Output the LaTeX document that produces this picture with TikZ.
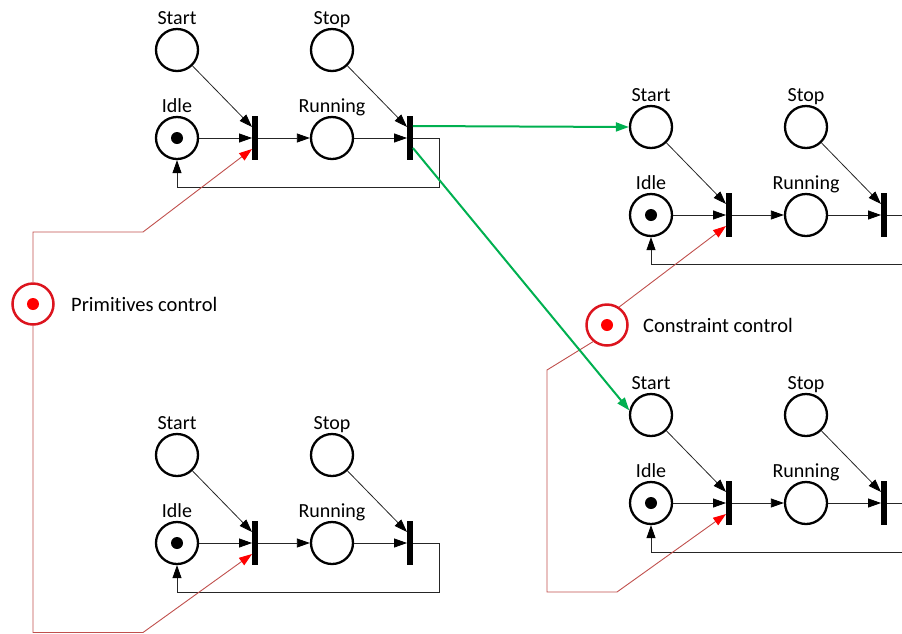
\documentclass[tikz,border=0pt]{standalone}
\usepackage{fontspec}
\setmainfont{Carlito}[Ligatures=NoCommon]
\usetikzlibrary{positioning,arrows.meta}

\definecolor{ctrlline}{RGB}{192,80,77}
\definecolor{ctrlred}{RGB}{220,20,30}
\definecolor{flowgreen}{RGB}{0,176,80}

\tikzset{
  place/.style={circle,draw,line width=2.3pt,minimum size=42pt,inner sep=0pt},
  token/.style={circle,fill=black,minimum size=12pt,inner sep=0pt},
  trans/.style={rectangle,fill=black,minimum width=5.5pt,minimum height=44pt,inner sep=0pt},
  lbl/.style={font=\fontsize{20}{24}\selectfont,inner sep=0pt,text depth=0pt,label distance=3pt},
  arc/.style={draw=black!85,line width=0.8pt,-{Triangle[length=13pt,width=9pt,color=black]}},
  flow/.style={draw=flowgreen,line width=2pt,-{Triangle[length=13pt,width=9pt]}},
  ctrl/.style={draw=ctrlline,line width=0.9pt},
  ctrlarc/.style={ctrl,-{Triangle[length=13pt,width=9pt,color=red]}},
  ctrlplace/.style={circle,draw=ctrlred,line width=2.5pt,minimum size=41pt,inner sep=0pt},
  ctrltoken/.style={circle,fill=red,minimum size=12pt,inner sep=0pt},
  ctrltext/.style={font=\fontsize{20.5}{24}\selectfont,inner sep=0pt}
}

\begin{document}
\begin{tikzpicture}[x=1pt,y=-1pt,on grid]
  \useasboundingbox (0,0) rectangle (902,633);
  \clip (0,0) rectangle (902,633);

  % machine 1 (top left)
  \node[place,label={[lbl]above:Idle}] (idle1) at (177,138) {};
  \node[token] (dot1) at (idle1) {};
  \node[place,label={[lbl]above:Start},above=88pt of idle1] (start1) {};
  \node[trans,right=78pt of idle1] (ton1) {};
  \node[place,label={[lbl]above:Running},right=155pt of idle1] (run1) {};
  \node[place,label={[lbl]above:Stop},above=88pt of run1] (stop1) {};
  \node[trans,right=78pt of run1] (toff1) {};
  \coordinate[below=49pt of idle1] (back1);
  \draw[arc] (start1) -- ([yshift=11pt]ton1.west);
  \draw[arc] (idle1) -- (ton1);
  \draw[arc] (ton1) -- (run1);
  \draw[arc] (run1) -- (toff1);
  \draw[arc] (stop1) -- ([yshift=11pt]toff1.west);
  \draw[arc] (toff1.east) -- ++(26,0) |- (back1) -- (idle1);

  % machine 2 (top right)
  \node[place,label={[lbl]above:Idle}] (idle2) at (651,215) {};
  \node[token] (dot2) at (idle2) {};
  \node[place,label={[lbl]above:Start},above=88pt of idle2] (start2) {};
  \node[trans,right=78pt of idle2] (ton2) {};
  \node[place,label={[lbl]above:Running},right=155pt of idle2] (run2) {};
  \node[place,label={[lbl]above:Stop},above=88pt of run2] (stop2) {};
  \node[trans,right=78pt of run2] (toff2) {};
  \coordinate[below=49pt of idle2] (back2);
  \draw[arc] (start2) -- ([yshift=11pt]ton2.west);
  \draw[arc] (idle2) -- (ton2);
  \draw[arc] (ton2) -- (run2);
  \draw[arc] (run2) -- (toff2);
  \draw[arc] (stop2) -- ([yshift=11pt]toff2.west);
  \draw[arc] (toff2.east) -- ++(26,0) |- (back2) -- (idle2);

  % machine 3 (bottom right)
  \node[place,label={[lbl]above:Idle}] (idle3) at (651,503) {};
  \node[token] (dot3) at (idle3) {};
  \node[place,label={[lbl]above:Start},above=88pt of idle3] (start3) {};
  \node[trans,right=78pt of idle3] (ton3) {};
  \node[place,label={[lbl]above:Running},right=155pt of idle3] (run3) {};
  \node[place,label={[lbl]above:Stop},above=88pt of run3] (stop3) {};
  \node[trans,right=78pt of run3] (toff3) {};
  \coordinate[below=49pt of idle3] (back3);
  \draw[arc] (start3) -- ([yshift=11pt]ton3.west);
  \draw[arc] (idle3) -- (ton3);
  \draw[arc] (ton3) -- (run3);
  \draw[arc] (run3) -- (toff3);
  \draw[arc] (stop3) -- ([yshift=11pt]toff3.west);
  \draw[arc] (toff3.east) -- ++(26,0) |- (back3) -- (idle3);

  % machine 4 (bottom left)
  \node[place,label={[lbl]above:Idle}] (idle4) at (177,543) {};
  \node[token] (dot4) at (idle4) {};
  \node[place,label={[lbl]above:Start},above=88pt of idle4] (start4) {};
  \node[trans,right=78pt of idle4] (ton4) {};
  \node[place,label={[lbl]above:Running},right=155pt of idle4] (run4) {};
  \node[place,label={[lbl]above:Stop},above=88pt of run4] (stop4) {};
  \node[trans,right=78pt of run4] (toff4) {};
  \coordinate[below=49pt of idle4] (back4);
  \draw[arc] (start4) -- ([yshift=11pt]ton4.west);
  \draw[arc] (idle4) -- (ton4);
  \draw[arc] (ton4) -- (run4);
  \draw[arc] (run4) -- (toff4);
  \draw[arc] (stop4) -- ([yshift=11pt]toff4.west);
  \draw[arc] (toff4.east) -- ++(26,0) |- (back4) -- (idle4);

  % control places
  \node[ctrlplace] (prim) at (33,304) {};
  \node[ctrltoken] (primdot) at (prim) {};
  \node[ctrltext,right=38pt of prim,anchor=west] (primtext) {Primitives control};
  \node[ctrlplace] (cons) at (607,325) {};
  \node[ctrltoken] (consdot) at (cons) {};
  \node[ctrltext,right=36pt of cons,anchor=west] (constext) {Constraint control};

  \coordinate (primup) at (143,232);
  \coordinate (primdown) at (143,632.5);
  \coordinate (consbend) at (547,370);
  \coordinate (consdown) at (617,592);
  \draw[ctrlarc] (prim.north) |- (primup) -- ([yshift=-11pt]ton1.west);
  \draw[ctrlarc] (prim.south) |- (primdown) -- ([yshift=-11pt]ton4.west);
  \draw[ctrlarc] (cons.56) -- ([yshift=-11pt]ton2.west);
  \draw[ctrlarc] (cons.230) -- (consbend) |- (consdown) -- ([yshift=-11pt]ton3.west);

  % hand-over to the other machines
  \draw[flow] ([yshift=12pt]toff1.east) -- (start2.west);
  \draw[flow] ([yshift=-10pt]toff1.east) -- (start3.168);
\end{tikzpicture}
\end{document}
